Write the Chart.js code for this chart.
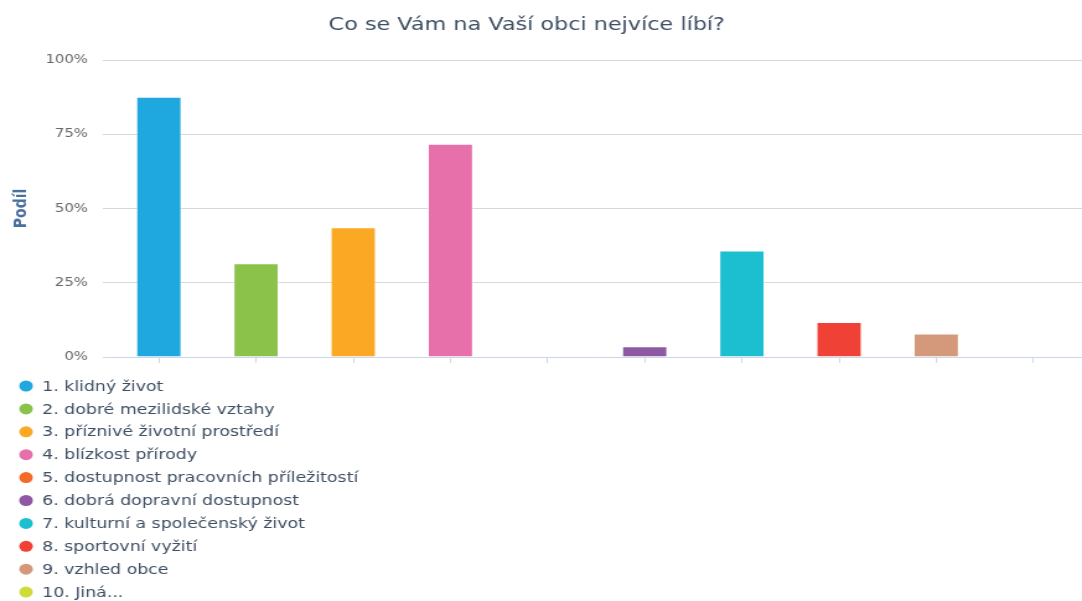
<!DOCTYPE html>
<html lang="cs">
<head>
<meta charset="utf-8">
<title>Co se Vám na Vaší obci nejvíce líbí?</title>
<script src="https://cdn.jsdelivr.net/npm/chart.js@4/dist/chart.umd.min.js"></script>
<style>
  html, body { margin: 0; padding: 0; background: #fff; overflow: hidden; }
  /* the reference is a horizontally stretched export, so the canvas is drawn narrower and stretched by CSS */
  #podilChart { display: block; width: 1082px; height: 601px; }
</style>
</head>
<body>
<canvas id="podilChart" width="873" height="601" style="width:1082px;height:601px"></canvas>
<script>
// Data
const chartTitle = 'Co se Vám na Vaší obci nejvíce líbí?';
const categories = [
    '1. klidný život',
    '2. dobré mezilidské vztahy',
    '3. příznivé životní prostředí',
    '4. blízkost přírody',
    '5. dostupnost pracovních příležitostí',
    '6. dobrá dopravní dostupnost',
    '7. kulturní a společenský život',
    '8. sportovní vyžití',
    '9. vzhled obce',
    '10. Jiná...'
];
const shares = [87.6, 31.6, 43.7, 71.8, 0, 3.6, 35.9, 11.8, 7.9, 0]; // percent
const barColors = ['#1fa8e0', '#8bc34a', '#fba924', '#e76faa', '#f26b2a',
                   '#8e58a3', '#1cbfcf', '#ef4136', '#d4997a', '#cddc39'];
const yTicks = [0, 25, 50, 75, 100];

const textColor = '#3e4f63';
const fontFamily = "'DejaVu Sans', Verdana, sans-serif";

// Title (slightly left of centre, as in the export) and a vertical legend, one item per row
const titleAndLegend = {
    id: 'titleAndLegend',
    afterDraw(chart) {
        const ctx = chart.ctx;
        const ds = chart.data.datasets[0];
        ctx.save();
        ctx.fillStyle = textColor;
        ctx.font = '18px ' + fontFamily;
        ctx.textAlign = 'center';
        ctx.textBaseline = 'middle';
        ctx.fillText(chartTitle, 425, 25);

        const top = chart.chartArea.bottom + 29;
        const rowH = 22.9;
        ctx.font = '14px ' + fontFamily;
        ctx.textAlign = 'left';
        chart.data.labels.forEach((label, i) => {
            const y = top + i * rowH;
            ctx.fillStyle = ds.backgroundColor[i];
            ctx.beginPath();
            ctx.arc(21, y, 5.5, 0, Math.PI * 2);
            ctx.fill();
            ctx.fillStyle = textColor;
            ctx.fillText(label, 34, y + 1);
        });
        ctx.restore();
    }
};

const config = {
    type: 'bar',
    data: {
        labels: categories,
        datasets: [{
            label: 'Podíl',
            data: shares,
            backgroundColor: barColors,
            borderColor: 'rgba(255,255,255,0.6)',
            borderWidth: 1,
            categoryPercentage: 1,
            barPercentage: 0.47
        }]
    },
    options: {
        responsive: false,
        animation: false,
        layout: { padding: { left: 0, right: 0, top: 60, bottom: 238 } },
        plugins: {
            legend: { display: false },
            tooltip: { enabled: false },
            title: { display: false }
        },
        scales: {
            x: {
                offset: true,
                grid: {
                    offset: false,
                    drawOnChartArea: false,
                    drawTicks: true,
                    tickLength: 6,
                    color: '#ccd6eb'
                },
                border: { display: true, color: '#ccd6eb', width: 1 },
                ticks: { display: false }
            },
            y: {
                min: 0,
                max: 100,
                afterBuildTicks(scale) {
                    scale.ticks = yTicks.map(v => ({ value: v }));
                },
                afterFit(scale) { scale.width = 89; },
                grid: { color: '#d8d8d8', lineWidth: 1, tickLength: 6 },
                border: { display: false },
                ticks: {
                    color: '#666666',
                    padding: 12,
                    font: { family: fontFamily, size: 12 },
                    callback: v => v + '%'
                },
                title: {
                    display: true,
                    text: 'Podíl',
                    color: '#4a70a0',
                    font: { family: fontFamily, size: 14, weight: 'bold' },
                    padding: { top: 8.5, bottom: 0 }
                }
            }
        }
    },
    plugins: [titleAndLegend]
};

document.addEventListener('DOMContentLoaded', () => {
    const canvas = document.getElementById('podilChart');
    new Chart(canvas, config);
});
</script>
</body>
</html>
